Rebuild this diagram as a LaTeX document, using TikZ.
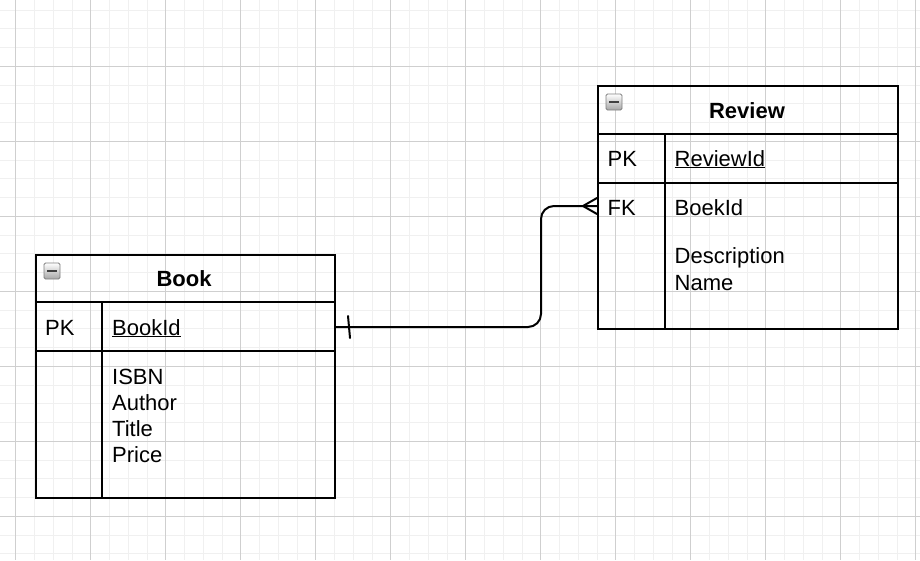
\documentclass[tikz,border=0pt]{standalone}
\usepackage{fontspec}
\setmainfont{Liberation Sans}
\usepackage{xcolor}
\usepackage{tikz}
\usetikzlibrary{shapes,positioning,calc,backgrounds}

\tikzset{
    minorline/.style={draw=black!6, line width=1pt},
    majorline/.style={draw=black!19, line width=1pt},
    tablebox/.style={draw, line width=2pt, inner sep=0pt, anchor=north west},
    rowline/.style={line width=2pt},
    field/.style={anchor=base west, inner sep=0pt, font=\fontsize{22}{26}\selectfont},
    tabletitle/.style={anchor=base, inner sep=0pt, font=\fontsize{22}{26}\selectfont\bfseries},
    iconbox/.style={draw=black!50, line width=0.8pt, rounded corners=1.5pt, minimum size=16pt,
        inner sep=0pt, top color=white, bottom color=black!35},
    relline/.style={line width=2pt, line cap=round}
}

\begin{document}
\begin{tikzpicture}[x=1pt, y=-1pt]
    \useasboundingbox (0,0) rectangle (920,560);
    \fill[white] (0,0) rectangle (920,560);

    \foreach \gx in {0,...,49}
        \draw[minorline] ({-3+18.75*\gx},0) -- ++(0,560);
    \foreach \gy in {0,...,29}
        \draw[minorline] (0,{10+18.75*\gy}) -- ++(920,0);
    \foreach \gx in {0,...,12}
        \draw[majorline] ({15.7+75*\gx},0) -- ++(0,560);
    \foreach \gy in {0,...,6}
        \draw[majorline] (0,{66.3+75*\gy}) -- ++(920,0);

    % Book
    \node[tablebox, minimum width=299pt, minimum height=243pt] (book) at (35,254) {};
    \draw[rowline] (35,302) -- (334,302);
    \draw[rowline] (35,351) -- (334,351);
    \draw[rowline] (102,302) -- (102,497);
    \node[iconbox] (bookicon) at (52,271) {};
    \draw[line width=2.2pt, black!75] ([xshift=-4.8pt]bookicon.center) -- ([xshift=4.8pt]bookicon.center);
    \node[tabletitle] (booktitle) at (184,286) {Book};
    \node[field] (bookpklabel) at (45,335) {PK};
    \node[field] (bookid) at (112,335) {\underline{BookId}};
    \foreach \fname [count=\i] in {ISBN,Author,Title,Price}
        \node[field] (book-\fname) at (112,{384+26.3*(\i-1)}) {\fname};

    % Review
    \node[tablebox, minimum width=300pt, minimum height=243pt] (review) at (597,85) {};
    \draw[rowline] (597,134) -- (897,134);
    \draw[rowline] (597,183) -- (897,183);
    \draw[rowline] (665,134) -- (665,328);
    \node[iconbox] (reviewicon) at (614,102) {};
    \draw[line width=2.2pt, black!75] ([xshift=-4.8pt]reviewicon.center) -- ([xshift=4.8pt]reviewicon.center);
    \node[tabletitle] (reviewtitle) at (747,118) {Review};
    \node[field] (reviewpklabel) at (607.5,166) {PK};
    \node[field] (reviewid) at (674.5,166) {\underline{ReviewId}};
    \node[field] (reviewfklabel) at (607.5,215) {FK};
    \node[field] (boekid) at (674.5,215) {BoekId};
    \node[field] (description) at (674.5,263) {Description};
    \node[field] (name) at (674.5,290) {Name};

    % relation
    \coordinate (bookpk) at (book.east |- 0,327);
    \coordinate (reviewfk) at (review.west |- 0,206);
    \draw[relline, rounded corners=13pt] (bookpk) -- (541,327) -- (541,206) -- (reviewfk);
    \draw[relline] ($(bookpk)+(12,-11)$) -- ($(bookpk)+(14,11)$);
    \draw[relline] ([yshift=8pt]reviewfk) -- ([xshift=-14pt]reviewfk) -- ([yshift=-8pt]reviewfk);
\end{tikzpicture}
\end{document}
